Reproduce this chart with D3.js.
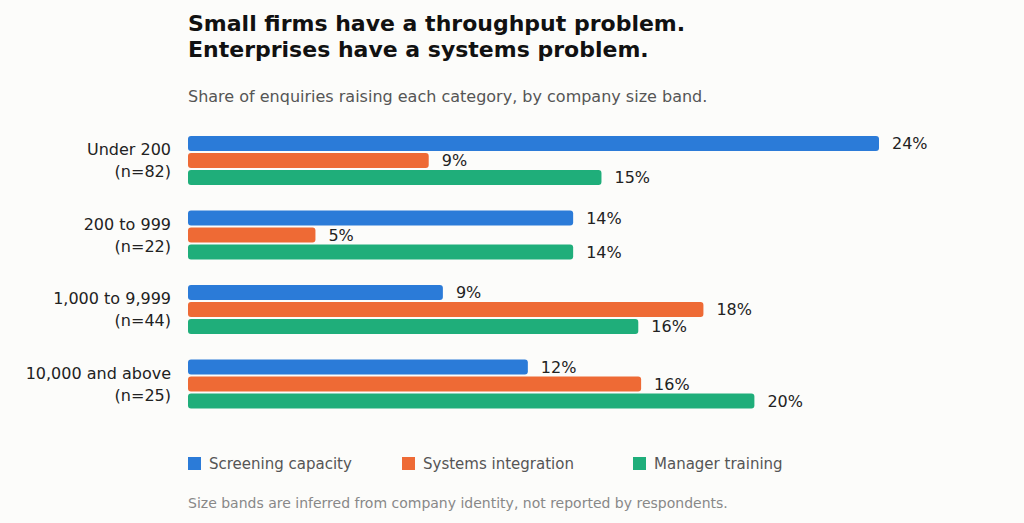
<!DOCTYPE html>
<html>
<head>
<meta charset="utf-8">
<script src="https://cdn.jsdelivr.net/npm/d3@7"></script>
<style>
  body { margin: 0; background: #fcfcfa; font-family: "DejaVu Sans", sans-serif; }
</style>
</head>
<body>
<div id="chart"></div>
<script>
// Chart data
var bands = ["Under 200", "200 to 999", "1,000 to 9,999", "10,000 and above"];
var bandCounts = ["(n=82)", "(n=22)", "(n=44)", "(n=25)"];
var seriesNames = ["Screening capacity", "Systems integration", "Manager training"];
var screening = [24.4, 13.6, 9.0, 12.0];
var systems = [8.5, 4.5, 18.2, 16.0];
var training = [14.6, 13.6, 15.9, 20.0];
var colors = ["#2b7bd8", "#ee6a35", "#1fae7a"];

var svgWidth = 1024, svgHeight = 523;
var svg = d3.select("#chart").append("svg")
  .attr("width", svgWidth).attr("height", svgHeight);

svg.append("rect").attr("width", svgWidth).attr("height", svgHeight).attr("fill", "#fcfcfa");

// Titles
svg.append("text").attr("x", 188).attr("y", 31).attr("font-size", 22).attr("font-weight", "bold")
  .attr("fill", "#111").text("Small firms have a throughput problem.");
svg.append("text").attr("x", 188).attr("y", 57).attr("font-size", 22).attr("font-weight", "bold")
  .attr("fill", "#111").text("Enterprises have a systems problem.");
svg.append("text").attr("x", 188).attr("y", 102).attr("font-size", 16)
  .attr("fill", "#555").text("Share of enquiries raising each category, by company size band.");

// Scales
var x = d3.scaleLinear().domain([0, 24.4]).range([188, 879]);
var y = d3.scaleBand().domain(bands).range([123, 421]);
var inner = d3.scaleBand().domain([0, 1, 2]).range([12, 63]);

var rows = [screening, systems, training];

var groups = svg.selectAll("g.band").data(bands).enter().append("g")
  .attr("class", "band")
  .attr("transform", d => `translate(0, ${y(d)})`);

groups.each(function(band, bi) {
  var g = d3.select(this);
  rows.forEach(function(vals, si) {
    var v = vals[bi];
    var cy = inner(si);
    g.append("rect")
      .attr("x", x(0)).attr("y", cy + 1)
      .attr("width", x(v) - x(0)).attr("height", 15)
      .attr("rx", 3).attr("fill", colors[si]);
    g.append("text")
      .attr("x", x(v) + 13).attr("y", cy + 14)
      .attr("font-size", 16).attr("fill", "#222")
      .text(Math.round(v) + "%");
  });
  g.append("text").attr("x", 171).attr("y", 32).attr("text-anchor", "end")
    .attr("font-size", 16).attr("fill", "#222").text(band);
  g.append("text").attr("x", 171).attr("y", 54).attr("text-anchor", "end")
    .attr("font-size", 16).attr("fill", "#222").text(bandCounts[bi]);
});

// Legend
var legendX = [188, 402, 633];
seriesNames.forEach(function(name, i) {
  svg.append("rect").attr("x", legendX[i]).attr("y", 457).attr("width", 13).attr("height", 13)
    .attr("fill", colors[i]);
  svg.append("text").attr("x", legendX[i] + 21).attr("y", 469).attr("font-size", 15)
    .attr("fill", "#555").text(name);
});

// Footnote
svg.append("text").attr("x", 188).attr("y", 508).attr("font-size", 14)
  .attr("fill", "#888").text("Size bands are inferred from company identity, not reported by respondents.");
</script>
</body>
</html>
